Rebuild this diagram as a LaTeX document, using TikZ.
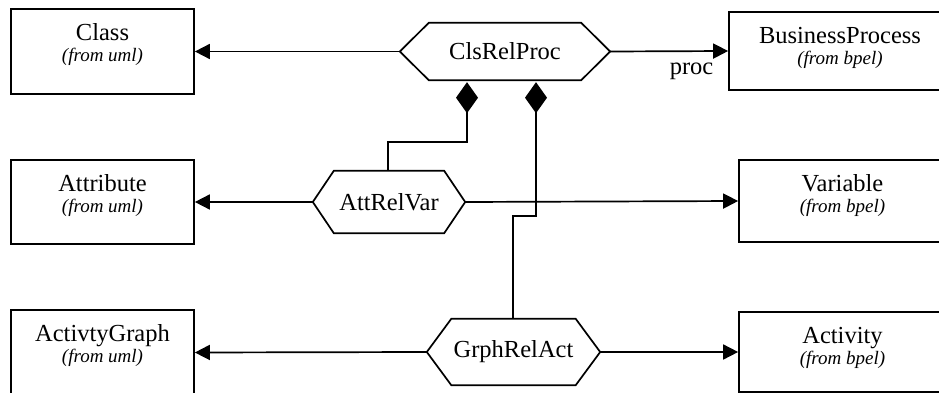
\documentclass[tikz,border=0pt]{standalone}
\usepackage{fontspec}
\setmainfont{Liberation Serif}
\usetikzlibrary{arrows.meta,calc}
\tikzset{
  ln/.style={line width=1.7pt},
  umlbox/.style={draw, ln, fill=white, inner sep=0pt},
  hexnode/.style={inner sep=0pt, font=\fontsize{24.5}{28}\selectfont},
  ttl/.style={anchor=base, font=\fontsize{24.5}{28}\selectfont, inner sep=0pt},
  subt/.style={anchor=base, font=\fontsize{19}{22}\selectfont\itshape, inner sep=0pt},
  assoc/.style={ln, -{Triangle[length=15pt,width=15pt]}},
  comp/.style={ln, -{Diamond[length=31pt,width=22pt]}, shorten >=2pt},
}
\newcommand\drawhex[2]{% name, inset
  \draw[ln] (#1.west) -- ($(#1.north west)+(#2,0)$) -- ($(#1.north east)+(-#2,0)$) -- (#1.east)
    -- ($(#1.south east)+(-#2,0)$) -- ($(#1.south west)+(#2,0)$) -- cycle;}
\newcommand\boxtext[4]{% name, title, subtitle
  \node[ttl] (#1T) at ($(#1.north)+(0,32)$) {#2};
  \node[subt] (#1S) at ($(#1.north)+(0,53)$) {#3};}
\begin{document}
\begin{tikzpicture}[x=1pt,y=-1pt]
\useasboundingbox (0,0) rectangle (939,393);
\clip (0,0) rectangle (939,393);
\fill[white] (0,0) rectangle (939,393);
% boxes
\node[umlbox, minimum width=183pt, minimum height=85pt] (class) at (102.5,51.5) {};
\boxtext{class}{Class}{(from uml)}{}
\node[umlbox, minimum width=222pt, minimum height=78pt] (bp) at (840,51) {};
\boxtext{bp}{BusinessProcess}{(from bpel)}{}
\node[umlbox, minimum width=183pt, minimum height=84pt] (attr) at (102.5,202) {};
\boxtext{attr}{Attribute}{(from uml)}{}
\node[umlbox, minimum width=207pt, minimum height=82pt] (var) at (842.5,201) {};
\boxtext{var}{Variable}{(from bpel)}{}
\node[umlbox, minimum width=183pt, minimum height=85pt] (actg) at (102.5,352.5) {};
\boxtext{actg}{ActivtyGraph}{(from uml)}{}
\node[umlbox, minimum width=207pt, minimum height=80pt] (act) at (842.5,352) {};
\boxtext{act}{Activity}{(from bpel)}{}
% hexagons
\node[hexnode, minimum width=210pt, minimum height=57pt] (cls) at (505,51.5) {ClsRelProc};
\drawhex{cls}{29}
\node[hexnode, minimum width=152pt, minimum height=62pt] (att) at (389,202) {AttRelVar};
\drawhex{att}{21}
\node[hexnode, minimum width=173pt, minimum height=66pt] (grph) at (513.5,352) {GrphRelAct};
\drawhex{grph}{24.5}
% associations
\draw[assoc] (cls.west) -- (class.east);
\draw[assoc] (cls.east) -- node[pos=0.69, anchor=base, yshift=-23pt, inner sep=0pt, font=\fontsize{24.5}{28}\selectfont] (proc) {proc} (bp.west);
\draw[assoc] (att.west) -- (attr.east);
\draw[assoc] (att.east) -- (var.west);
\draw[assoc] (grph.west) -- (actg.east);
\draw[assoc] (grph.east) -- (act.west);
% compositions
\draw[comp] ([xshift=-1pt]att.north) -- ++(0,-29) -| ([xshift=-38pt]cls.south);
\draw[comp] ([xshift=-0.5pt]grph.north) -- ++(0,-103) -| ([xshift=31pt]cls.south);
\end{tikzpicture}
\end{document}
